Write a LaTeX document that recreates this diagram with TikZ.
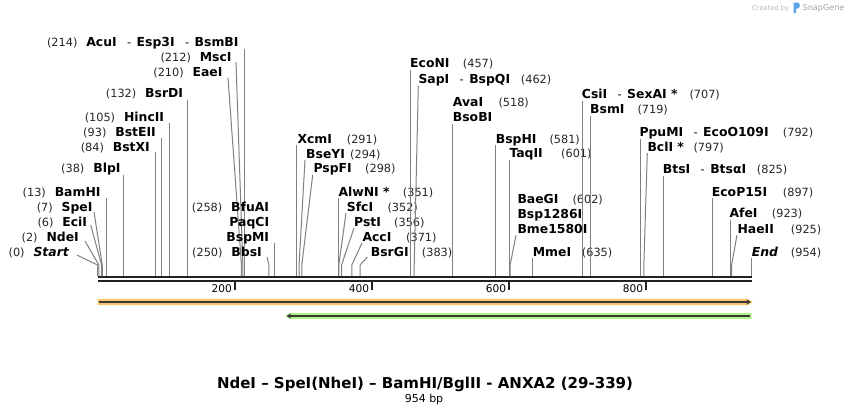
\documentclass[tikz,border=0pt]{standalone}
\usepackage{fontspec}
\setmainfont{DejaVu Sans}
\usetikzlibrary{arrows.meta}
\definecolor{cutgray}{HTML}{808080}
\definecolor{bbone}{HTML}{222222}
\definecolor{orfill}{HTML}{F9C66C}
\definecolor{grfill}{HTML}{B6F08C}
\definecolor{credgray}{HTML}{B8B8B8}
\definecolor{logoblue}{HTML}{5AA5E8}
\newcommand\dsh{\hspace{10.3pt}{\mdseries\fontsize{11.3}{13}\selectfont -}\hspace{5.6pt}}
\newcommand\rlab[6]{\node[nm,anchor=base west] (n#1) at (#2,#3+4.5) {#4};\node[num,anchor=base west] (p#1) at (#5,#3+4.5) {#6};}
\newcommand\llab[5]{\node[nm,anchor=base east] (n#1) at (#2,#3+4.5) {#4};\node[num,anchor=base east] (p#1) at ([xshift=-8.5pt]n#1.base west) {#5};}
\newcommand\aconn[4]{\pgfmathsetmacro\xx{97.5+0.6855*#2}\coordinate (b#1) at (\xx,276);\coordinate (k#1) at (\xx,265);\coordinate (t#1) at (#3,#4);\draw[cut] (b#1) -- (k#1) -- (t#1);}
\newcommand\vconn[3]{\pgfmathsetmacro\xx{97.5+0.6855*#2}\coordinate (b#1) at (\xx,276);\coordinate (t#1) at (\xx,#3);\draw[cut] (b#1) -- (t#1);}
\begin{document}
\begin{tikzpicture}[x=1pt,y=-1pt,
  nm/.style={font=\fontsize{12.4}{14}\selectfont\bfseries,inner sep=0pt,text=black},
  num/.style={font=\fontsize{11.3}{13}\selectfont,inner sep=0pt,text=black!85},
  cut/.style={draw=cutgray,line width=1pt},
  bb/.style={draw=bbone,line width=2.2pt},
  tick/.style={draw=bbone,line width=1.8pt},
  ticklab/.style={font=\fontsize{10.6}{12}\selectfont,inner sep=0pt},
  featline/.style={draw=bbone!90,line width=1.3pt}]
\fill[white] (0,0) rectangle (850,415);
\useasboundingbox (0,0) rectangle (850,415);

% backbone
\coordinate (s1) at (97.5,277); \coordinate (e1) at (751.5,277);
\coordinate (s2) at (97.5,281.3); \coordinate (e2) at (751.5,281.3);
\draw[bb] (s1) -- (e1);
\draw[bb] (s2) -- (e2);
\foreach \t in {200,400,600,800}{
  \pgfmathsetmacro\tx{97.5+0.6855*\t}
  \draw[tick] (\tx,282) -- (\tx,290);
  \node[ticklab,anchor=base east] at (\tx-2.5,292.8) {\t};
}

% features
\fill[orfill] (97.5,298.8) -- (748,298.8) -- (752.5,302) -- (748,305.2) -- (97.5,305.2) -- cycle;
\coordinate (os) at (99,302); \coordinate (oe) at (751,302);
\draw[featline,-{Stealth[length=4.5pt,width=5pt]}] (os) -- (oe);
\fill[grfill] (751.5,312.8) -- (290,312.8) -- (285.5,316) -- (290,319.2) -- (751.5,319.2) -- cycle;
\coordinate (gs) at (750,316); \coordinate (ge) at (286.5,316);
\draw[featline,-{Stealth[length=4.5pt,width=5pt]}] (gs) -- (ge);

% left-side labels
\llab{acu}{238.7}{42}{AcuI\dsh Esp3I\dsh BsmBI}{(214)}
\vconn{acu}{214}{49}
\llab{msc}{231.7}{56.7}{MscI}{(212)}
\aconn{msc}{212}{236}{62}
\llab{eae}{222.7}{71.7}{EaeI}{(210)}
\aconn{eae}{210}{228}{77.7}
\llab{bsrd}{183.3}{93.3}{BsrDI}{(132)}
\vconn{bsrd}{132}{100}
\llab{hinc}{164.3}{116.7}{HincII}{(105)}
\vconn{hinc}{105}{122.5}
\llab{bste}{156}{131.7}{BstEII}{(93)}
\vconn{bste}{93}{137.5}
\llab{bstx}{150}{146.7}{BstXI}{(84)}
\vconn{bstx}{84}{152}
\llab{blp}{120.7}{168.3}{BlpI}{(38)}
\vconn{blp}{38}{175}
\llab{bam}{100.7}{192.3}{BamHI}{(13)}
\vconn{bam}{13}{198}
\llab{spe}{92.7}{207.3}{SpeI}{(7)}
\aconn{spe}{7}{94}{212}
\llab{eci}{87.3}{222.3}{EciI}{(6)}
\aconn{eci}{6}{90.7}{225}
\llab{nde}{79}{237.3}{NdeI}{(2)}
\aconn{nde}{2}{85}{241}
\llab{start}{69}{251.5}{\itshape Start}{(0)}
\aconn{start}{0}{77}{255}
\llab{bfu}{269.3}{206.7}{BfuAI}{(258)}
\node[nm,anchor=base east] (npaq) at (269.3,221.7+4.5) {PaqCI};
\node[nm,anchor=base east] (nbspm) at (269.3,237.3+4.5) {BspMI};
\vconn{bfu}{258}{243}
\llab{bbs}{262}{251.5}{BbsI}{(250)}
\aconn{bbs}{250}{267}{257}

% right-side labels
\rlab{xcm}{297.3}{139.3}{XcmI}{346.7}{(291)}
\vconn{xcm}{291}{145}
\rlab{bsey}{306}{154.3}{BseYI}{350}{(294)}
\aconn{bsey}{294}{305}{160}
\rlab{pspf}{313.3}{168.3}{PspFI}{365}{(298)}
\aconn{pspf}{298}{312.7}{175}
\rlab{alwn}{338.3}{192.3}{AlwNI *}{402.7}{(351)}
\vconn{alwn}{351}{198}
\rlab{sfc}{346.7}{207.3}{SfcI}{387.3}{(352)}
\aconn{sfc}{352}{346}{213}
\rlab{pst}{354}{222.3}{PstI}{394}{(356)}
\aconn{pst}{356}{354}{228}
\rlab{acc}{362.3}{237.3}{AccI}{406}{(371)}
\aconn{acc}{371}{362}{243}
\rlab{bsrg}{370.7}{252}{BsrGI}{421.7}{(383)}
\aconn{bsrg}{383}{367.3}{257}
\rlab{econ}{410}{63.3}{EcoNI}{462.7}{(457)}
\vconn{econ}{457}{70}
\rlab{sap}{418.3}{79.3}{SapI\dsh BspQI}{520.7}{(462)}
\aconn{sap}{462}{418.3}{86}
\rlab{ava}{452.7}{101.7}{AvaI}{498.3}{(518)}
\node[nm,anchor=base west] (nbsob) at (452.7,116.7+4.5) {BsoBI};
\vconn{ava}{518}{124}
\rlab{bsph}{495.7}{139}{BspHI}{549.3}{(581)}
\vconn{bsph}{581}{145}
\rlab{taq}{509.3}{153.3}{TaqII}{561}{(601)}
\vconn{taq}{601}{160}
\rlab{baeg}{517.3}{199.3}{BaeGI}{572.3}{(602)}
\node[nm,anchor=base west] (nbsp) at (517.3,214.3+4.5) {Bsp1286I};
\node[nm,anchor=base west] (nbme) at (517.3,229+4.5) {Bme1580I};
\aconn{baeg}{602}{516}{235}
\rlab{mme}{532.7}{252.3}{MmeI}{581.7}{(635)}
\vconn{mme}{635}{258}
\rlab{csi}{581.7}{94}{CsiI\dsh SexAI *}{689.3}{(707)}
\vconn{csi}{707}{100.7}
\rlab{bsm}{590}{109.3}{BsmI}{637.3}{(719)}
\vconn{bsm}{719}{116}
\rlab{ppu}{639.3}{132.3}{PpuMI\dsh EcoO109I}{782.7}{(792)}
\vconn{ppu}{792}{139}
\rlab{bcl}{647.3}{146.7}{BclI *}{693.3}{(797)}
\aconn{bcl}{797}{647.3}{153}
\rlab{bts}{662.7}{169}{BtsI\dsh BtsαI}{756.7}{(825)}
\vconn{bts}{825}{176}
\rlab{ecop}{711.7}{191.7}{EcoP15I}{782.7}{(897)}
\vconn{ecop}{897}{198}
\rlab{afe}{729.3}{213.3}{AfeI}{771.7}{(923)}
\vconn{afe}{923}{220}
\rlab{hae}{737.3}{229}{HaeII}{790.7}{(925)}
\aconn{hae}{925}{737}{235}
\rlab{end}{751.7}{251.7}{\itshape End}{790.7}{(954)}
\vconn{end}{954}{258}

% title
\node[font=\fontsize{15}{18}\selectfont\bfseries,inner sep=0pt] (title) at (425,384.5) {NdeI – SpeI(NheI) – BamHI/BglII - ANXA2 (29-339)};
\node[font=\fontsize{11}{13}\selectfont,inner sep=0pt] (len) at (424,399) {954 bp};

% credit
\node[font=\fontsize{6.7}{8}\selectfont,text=credgray,inner sep=0pt,anchor=base west] (cred) at (752,10) {Created by};
\fill[logoblue] (793.5,2.5) -- (797.5,2.5) .. controls (800.5,2.5) and (800.5,8.5) .. (797.5,8.5) -- (796,8.5) -- (796,13) -- (793.5,13) -- cycle;
\node[font=\fontsize{8.1}{9}\selectfont,text=credgray!90!black,inner sep=0pt,anchor=base west] (sg) at (802.5,10.5) {SnapGene};
\end{tikzpicture}
\end{document}
